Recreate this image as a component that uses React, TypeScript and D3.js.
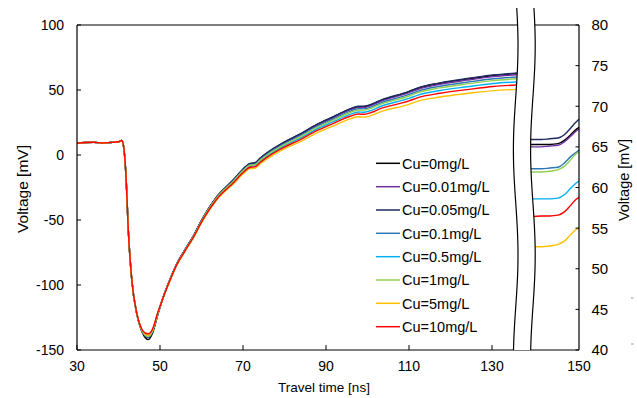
import React from "react";
import * as d3 from "d3";

// ---------- data ----------
const TIME = [30, 32, 34, 36, 38, 40, 40.8, 41.3, 41.8, 42.4, 43.2, 44.4, 45.6, 46.5, 47.2, 48.2, 49.5, 50.8, 52.5, 54, 56, 58, 60.4, 63.7, 67.7, 70.1, 71.7, 72.9, 74.1, 75.7, 79.7, 83.7, 87.8, 91.8, 95.8, 97.8, 99, 103.8, 110, 112, 117.5, 124, 130.3, 136];

const CU_0 = [9.0, 9.6, 9.8, 9.2, 9.6, 10.2, 11.2, 5, -16, -60, -96, -122.2, -135.6, -140.7, -142, -137.1, -122.6, -109, -95, -84, -73, -62.5, -48.1, -32.1, -19.1, -10.6, -6.6, -6.1, -2.6, 1.3, 9.3, 15.8, 23.3, 29.3, 35.3, 37.2, 37.2, 42.7, 48.7, 51.2, 55.2, 58.4, 61.1, 62.6];
const CU_001 = [9.0, 9.6, 9.8, 9.2, 9.6, 10.2, 11.2, 5, -16, -60, -96, -122, -135, -139.5, -140.5, -136, -122, -109.1, -95.1, -84.1, -73.1, -62.7, -48.2, -32.3, -19.3, -10.9, -6.9, -6.4, -3, 1, 9, 15.4, 22.8, 28.8, 34.7, 36.7, 36.6, 42.1, 48, 50.4, 54.4, 57.6, 60.3, 61.7];
const CU_005 = [9.0, 9.6, 9.8, 9.2, 9.6, 10.2, 11.2, 5, -16, -60, -96, -122, -135, -139.5, -140.5, -136, -122, -109, -95, -84, -73, -62.5, -48, -32, -19, -10.5, -6.5, -6, -2.5, 1.5, 9.5, 16, 23.5, 29.5, 35.5, 37.5, 37.5, 43, 49, 51.5, 55.5, 58.8, 61.5, 63.2];
const CU_01 = [9.0, 9.6, 9.8, 9.2, 9.6, 10.2, 11.2, 5, -16, -60, -96, -121.9, -134.8, -139.1, -140, -135.7, -121.8, -109.2, -95.2, -84.2, -73.3, -62.9, -48.5, -32.6, -19.8, -11.4, -7.5, -7, -3.6, 0.4, 8.2, 14.6, 21.9, 27.8, 33.6, 35.6, 35.5, 40.8, 46.6, 49, 52.9, 56, 58.6, 60];
const CU_05 = [9.0, 9.6, 9.8, 9.2, 9.6, 10.2, 11.2, 5, -16, -60, -96, -121.8, -134.4, -138.3, -139, -135, -121.4, -109.3, -95.5, -84.5, -73.7, -63.3, -49, -33.4, -20.7, -12.5, -8.7, -8.3, -5, -1.1, 6.6, 12.8, 20, 25.6, 31.3, 33.1, 32.9, 38.1, 43.6, 45.9, 49.6, 52.5, 55, 56.2];
const CU_1 = [9.0, 9.6, 9.8, 9.2, 9.6, 10.2, 11.2, 5, -16, -60, -96, -121.9, -134.6, -138.7, -139.5, -135.3, -121.6, -109.2, -95.3, -84.4, -73.5, -63, -48.7, -32.9, -20.1, -11.9, -7.9, -7.5, -4.1, -0.2, 7.6, 13.9, 21.2, 26.9, 32.7, 34.6, 34.5, 39.8, 45.4, 47.8, 51.6, 54.7, 57.2, 58.7];
const CU_5 = [9.0, 9.6, 9.8, 9.2, 9.6, 10.2, 11.2, 5, -16, -60, -96, -121.7, -134.2, -137.9, -138.5, -134.6, -121.2, -109.6, -95.9, -85, -74.3, -64, -49.9, -34.5, -22.1, -14.3, -10.5, -10.3, -7, -3.3, 4.3, 10.1, 17, 22.4, 27.8, 29.4, 29.1, 34, 39, 41.3, 44.6, 47.3, 49.5, 50.5];
const CU_10 = [9.0, 9.6, 9.8, 9.2, 9.6, 10.2, 11.2, 5, -16, -60, -96, -121.6, -133.8, -137.1, -137.5, -133.9, -120.8, -109.5, -95.6, -84.7, -73.9, -63.6, -49.4, -33.8, -21.3, -13.3, -9.4, -9.1, -5.8, -2, 5.6, 11.7, 18.7, 24.3, 29.8, 31.5, 31.3, 36.4, 41.6, 44, 47.5, 50.3, 52.7, 53.8];

// right (zoomed) panel
const TIME_R = [138.5, 141, 143, 145, 146.5, 148, 149, 150];
const R_0 = [65.3, 65.3, 65.3, 65.4, 65.8, 66.5, 67, 67.4];
const R_001 = [65.0, 65.0, 65.1, 65.2, 65.6, 66.3, 66.8, 67.2];
const R_005 = [65.9, 65.9, 66, 66.1, 66.5, 67.3, 67.9, 68.4];
const R_01 = [62.3, 62.3, 62.4, 62.5, 63, 63.8, 64.2, 64.6];
const R_05 = [58.6, 58.6, 58.6, 58.7, 59.1, 59.9, 60.4, 60.8];
const R_1 = [61.9, 61.9, 62, 62.2, 62.6, 63.4, 64, 64.4];
const R_5 = [52.7, 52.7, 52.8, 53, 53.4, 54.2, 54.7, 55.1];
const R_10 = [56.4, 56.5, 56.5, 56.6, 57, 57.8, 58.4, 58.8];

const LABELS = ["Cu=0mg/L", "Cu=0.01mg/L", "Cu=0.05mg/L", "Cu=0.1mg/L", "Cu=0.5mg/L", "Cu=1mg/L", "Cu=5mg/L", "Cu=10mg/L"];
const COLORS = ["#000000", "#7030A0", "#1F2A5E", "#2E75B6", "#00B0F0", "#92D050", "#FFC000", "#FF0000"];
const LEFT_SERIES = [CU_0, CU_001, CU_005, CU_01, CU_05, CU_1, CU_5, CU_10];
const RIGHT_SERIES = [R_0, R_001, R_005, R_01, R_05, R_1, R_5, R_10];

const X_TICKS = [30, 50, 70, 90, 110, 130];
const Y_TICKS = [-150, -100, -50, 0, 50, 100];
const X_TICKS_R = [150];
const Y_TICKS_R = [40, 45, 50, 55, 60, 65, 70, 75, 80];

const FONT = "'Liberation Sans', Arial, sans-serif";

export default function App() {
  const top = 25, bottom = 350;
  const x = d3.scaleLinear().domain([30, 135]).range([77, 512.75]);
  const y = d3.scaleLinear().domain([-150, 100]).range([bottom, top]);
  const xr = d3.scaleLinear().domain([139, 150]).range([533, 579]);
  const yr = d3.scaleLinear().domain([40, 80]).range([bottom, top]);

  const lineL = d3.line<number>().x((_, i) => x(TIME[i])).y((d) => y(d)).curve(d3.curveMonotoneX);
  const lineR = d3.line<number>().x((_, i) => xr(TIME_R[i])).y((d) => yr(d)).curve(d3.curveMonotoneX);

  // break waves
  const waveX = (yy: number, base: number) => base + 2.3 * Math.cos((2 * Math.PI * (yy - 45)) / 210);
  const ys = d3.range(8, 351, 3);
  const waveL = ys.map((yy) => [waveX(yy, 515.7), yy] as [number, number]);
  const waveR = ys.map((yy) => [waveX(yy, 532.9), yy] as [number, number]);
  const wl = d3.line().curve(d3.curveBasis);
  const band = "M" + waveL.map((p) => p.join(",")).join("L") + "L" + waveR.slice().reverse().map((p) => p.join(",")).join("L") + "Z";

  const legendY = [163.3, 186.7, 210, 233.3, 256.7, 280, 303.3, 326.7];

  return (
    <svg width={637} height={398} style={{ position: "absolute", left: 0, top: 0, background: "#fff" }} fontFamily={FONT}>
      <rect x={0} y={0} width={637} height={398} fill="#fff" />
      {/* data */}
      {LEFT_SERIES.map((s, i) => (
        <path key={"l" + i} d={lineL(s) || ""} fill="none" stroke={COLORS[i]} strokeWidth={1.4} />
      ))}
      {RIGHT_SERIES.map((s, i) => (
        <path key={"r" + i} d={lineR(s) || ""} fill="none" stroke={COLORS[i]} strokeWidth={1.4} />
      ))}
      {/* frame */}
      <line x1={77} x2={579} y1={top} y2={top} stroke="#000" strokeWidth={1.2} />
      <line x1={77} x2={579} y1={bottom} y2={bottom} stroke="#000" strokeWidth={1.2} />
      <line x1={77} x2={77} y1={top} y2={bottom} stroke="#000" strokeWidth={1.2} />
      <line x1={579} x2={579} y1={top} y2={bottom} stroke="#000" strokeWidth={1.2} />
      {/* break band */}
      <path d={band} fill="#fff" stroke="none" />
      <path d={wl(waveL) || ""} fill="none" stroke="#000" strokeWidth={1.2} />
      <path d={wl(waveR) || ""} fill="none" stroke="#000" strokeWidth={1.2} />
      {/* left y axis */}
      {Y_TICKS.map((t) => (
        <g key={"yt" + t}>
          <line x1={77} x2={81} y1={y(t)} y2={y(t)} stroke="#000" strokeWidth={1} />
          <text x={64} y={y(t)} dy="0.36em" textAnchor="end" fontSize={14} fill="#000">{t}</text>
        </g>
      ))}
      {/* x axis */}
      {X_TICKS.map((t) => (
        <g key={"xt" + t}>
          <line x1={x(t)} x2={x(t)} y1={bottom} y2={bottom - 5} stroke="#000" strokeWidth={1} />
          <text x={x(t)} y={371} textAnchor="middle" fontSize={14} fill="#000">{t}</text>
        </g>
      ))}
      {X_TICKS_R.map((t) => (
        <text key={"xr" + t} x={xr(t)} y={371} textAnchor="middle" fontSize={14} fill="#000">{t}</text>
      ))}
      {/* right y axis */}
      {Y_TICKS_R.map((t) => (
        <g key={"yr" + t}>
          <line x1={575.5} x2={579} y1={yr(t)} y2={yr(t)} stroke="#000" strokeWidth={1} />
          <text x={591.5} y={yr(t)} dy="0.36em" textAnchor="start" fontSize={15} fill="#000">{t}</text>
        </g>
      ))}
      {/* stray marks */}
      <line x1={631} x2={633.5} y1={298} y2={298} stroke="#999" strokeWidth={1} />
      <line x1={631} x2={633.5} y1={344} y2={344} stroke="#999" strokeWidth={1} />
      {/* titles */}
      <text x={324} y={392} textAnchor="middle" fontSize={13.5} fill="#000">Travel time [ns]</text>
      <text transform="translate(28,189) rotate(-90)" textAnchor="middle" fontSize={15.5} fill="#000">Voltage [mV]</text>
      <text transform="translate(629,180) rotate(-90)" textAnchor="middle" fontSize={14.5} fill="#000">Voltage [mV]</text>
      {/* legend */}
      {LABELS.map((l, i) => (
        <g key={"lg" + i}>
          <line x1={376} x2={400} y1={legendY[i]} y2={legendY[i]} stroke={COLORS[i]} strokeWidth={1.5} />
          <text x={402} y={legendY[i]} dy="0.36em" fontSize={14.5} fill="#000">{l}</text>
        </g>
      ))}
    </svg>
  );
}
